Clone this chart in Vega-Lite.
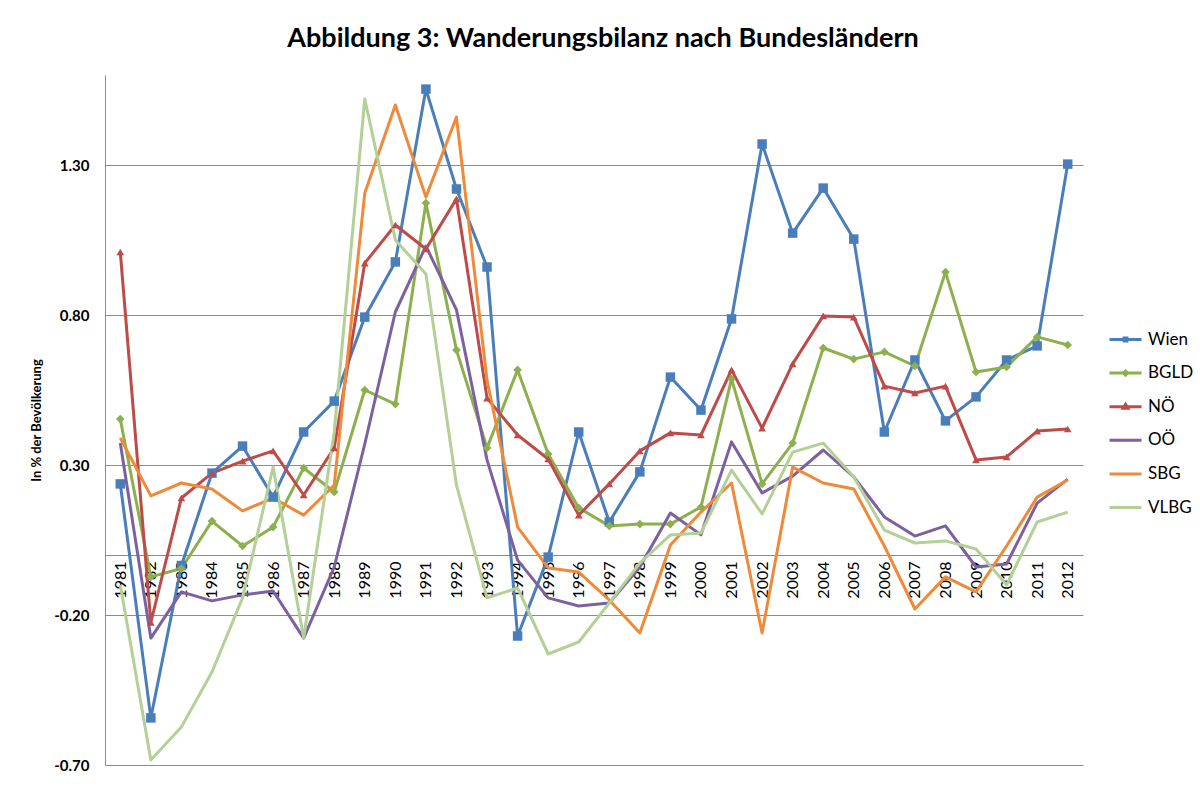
{
  "$schema": "https://vega.github.io/schema/vega-lite/v6.json",
  "width": 978,
  "height": 690,
  "autosize": "none",
  "padding": {"left": 105, "top": 75, "right": 117, "bottom": 22},
  "background": "white",
  "config": {"font": "Lato", "view": {"stroke": null}},
  "title": {
    "text": "Abbildung 3: Wanderungsbilanz nach Bundesländern",
    "font": "Lato", "fontSize": 27, "fontWeight": "bold", "color": "black",
    "anchor": "middle", "baseline": "alphabetic", "offset": 1, "dx": 9
  },
  "data": {"values": [
    {"year": "1981", "Wien": 0.237, "BGLD": 0.453, "NÖ": 1.01, "OÖ": 0.373, "SBG": 0.39, "VLBG": -0.10},
    {"year": "1982", "Wien": -0.543, "BGLD": -0.073, "NÖ": -0.225, "OÖ": -0.277, "SBG": 0.197, "VLBG": -0.683},
    {"year": "1983", "Wien": -0.035, "BGLD": -0.045, "NÖ": 0.19, "OÖ": -0.123, "SBG": 0.24, "VLBG": -0.573},
    {"year": "1984", "Wien": 0.273, "BGLD": 0.113, "NÖ": 0.273, "OÖ": -0.153, "SBG": 0.22, "VLBG": -0.39},
    {"year": "1985", "Wien": 0.363, "BGLD": 0.03, "NÖ": 0.313, "OÖ": -0.133, "SBG": 0.147, "VLBG": -0.143},
    {"year": "1986", "Wien": 0.193, "BGLD": 0.093, "NÖ": 0.347, "OÖ": -0.12, "SBG": 0.19, "VLBG": 0.293},
    {"year": "1987", "Wien": 0.41, "BGLD": 0.29, "NÖ": 0.2, "OÖ": -0.277, "SBG": 0.133, "VLBG": -0.277},
    {"year": "1988", "Wien": 0.513, "BGLD": 0.21, "NÖ": 0.357, "OÖ": -0.04, "SBG": 0.233, "VLBG": 0.41},
    {"year": "1989", "Wien": 0.793, "BGLD": 0.55, "NÖ": 0.973, "OÖ": 0.37, "SBG": 1.207, "VLBG": 1.52},
    {"year": "1990", "Wien": 0.977, "BGLD": 0.503, "NÖ": 1.1, "OÖ": 0.81, "SBG": 1.5, "VLBG": 1.05},
    {"year": "1991", "Wien": 1.553, "BGLD": 1.173, "NÖ": 1.02, "OÖ": 1.03, "SBG": 1.193, "VLBG": 0.937},
    {"year": "1992", "Wien": 1.22, "BGLD": 0.683, "NÖ": 1.187, "OÖ": 0.817, "SBG": 1.46, "VLBG": 0.233},
    {"year": "1993", "Wien": 0.96, "BGLD": 0.357, "NÖ": 0.523, "OÖ": 0.317, "SBG": 0.583, "VLBG": -0.143},
    {"year": "1994", "Wien": -0.27, "BGLD": 0.617, "NÖ": 0.4, "OÖ": -0.017, "SBG": 0.093, "VLBG": -0.11},
    {"year": "1995", "Wien": -0.007, "BGLD": 0.337, "NÖ": 0.32, "OÖ": -0.143, "SBG": -0.043, "VLBG": -0.33},
    {"year": "1996", "Wien": 0.41, "BGLD": 0.157, "NÖ": 0.133, "OÖ": -0.17, "SBG": -0.057, "VLBG": -0.29},
    {"year": "1997", "Wien": 0.11, "BGLD": 0.097, "NÖ": 0.237, "OÖ": -0.16, "SBG": -0.15, "VLBG": -0.16},
    {"year": "1998", "Wien": 0.277, "BGLD": 0.103, "NÖ": 0.347, "OÖ": -0.04, "SBG": -0.26, "VLBG": -0.027},
    {"year": "1999", "Wien": 0.593, "BGLD": 0.103, "NÖ": 0.407, "OÖ": 0.14, "SBG": 0.033, "VLBG": 0.067},
    {"year": "2000", "Wien": 0.483, "BGLD": 0.16, "NÖ": 0.4, "OÖ": 0.067, "SBG": 0.143, "VLBG": 0.073},
    {"year": "2001", "Wien": 0.787, "BGLD": 0.587, "NÖ": 0.617, "OÖ": 0.377, "SBG": 0.24, "VLBG": 0.283},
    {"year": "2002", "Wien": 1.37, "BGLD": 0.237, "NÖ": 0.423, "OÖ": 0.207, "SBG": -0.26, "VLBG": 0.137},
    {"year": "2003", "Wien": 1.073, "BGLD": 0.373, "NÖ": 0.637, "OÖ": 0.263, "SBG": 0.293, "VLBG": 0.343},
    {"year": "2004", "Wien": 1.223, "BGLD": 0.69, "NÖ": 0.797, "OÖ": 0.35, "SBG": 0.24, "VLBG": 0.373},
    {"year": "2005", "Wien": 1.053, "BGLD": 0.653, "NÖ": 0.793, "OÖ": 0.26, "SBG": 0.22, "VLBG": 0.26},
    {"year": "2006", "Wien": 0.41, "BGLD": 0.677, "NÖ": 0.563, "OÖ": 0.127, "SBG": 0.03, "VLBG": 0.083},
    {"year": "2007", "Wien": 0.65, "BGLD": 0.63, "NÖ": 0.54, "OÖ": 0.063, "SBG": -0.18, "VLBG": 0.04},
    {"year": "2008", "Wien": 0.447, "BGLD": 0.943, "NÖ": 0.563, "OÖ": 0.097, "SBG": -0.073, "VLBG": 0.047},
    {"year": "2009", "Wien": 0.527, "BGLD": 0.61, "NÖ": 0.317, "OÖ": -0.04, "SBG": -0.123, "VLBG": 0.02},
    {"year": "2010", "Wien": 0.65, "BGLD": 0.627, "NÖ": 0.327, "OÖ": -0.03, "SBG": 0.03, "VLBG": -0.1},
    {"year": "2011", "Wien": 0.697, "BGLD": 0.727, "NÖ": 0.413, "OÖ": 0.173, "SBG": 0.193, "VLBG": 0.11},
    {"year": "2012", "Wien": 1.303, "BGLD": 0.7, "NÖ": 0.42, "OÖ": 0.253, "SBG": 0.25, "VLBG": 0.143}
  ]},
  "transform": [{"fold": ["Wien", "BGLD", "NÖ", "OÖ", "SBG", "VLBG"], "as": ["series", "value"]}],
  "encoding": {
    "x": {
      "field": "year", "type": "ordinal",
      "scale": {"type": "point", "padding": 0.5},
      "axis": {
        "title": null, "offset": -210, "labelAngle": -90,
        "labelFont": "Lato", "labelFontSize": 16, "labelColor": "black",
        "ticks": false, "tickSize": 0, "labelPadding": 6,
        "domainColor": "#8c8c8c", "domainWidth": 1, "grid": false
      }
    },
    "y": {
      "field": "value", "type": "quantitative",
      "scale": {"domain": [-0.7, 1.6], "nice": false, "zero": false},
      "axis": {
        "values": [-0.7, -0.2, 0.3, 0.8, 1.3],
        "labelExpr": "replace(format(datum.value, '.2f'), '\u2212', '-')",
        "title": "In % der Bevölkerung",
        "titleFont": "Lato", "titleFontSize": 13, "titleFontWeight": "bold", "titleColor": "black",
        "titlePadding": 10,
        "labelFont": "Lato", "labelFontSize": 15, "labelFontWeight": "bold", "labelColor": "black",
        "labelPadding": 16, "ticks": false, "tickSize": 0,
        "domainColor": "#8c8c8c", "gridColor": "#8c8c8c", "gridWidth": 1
      }
    },
    "color": {
      "field": "series", "type": "nominal",
      "scale": {
        "domain": ["Wien", "BGLD", "NÖ", "OÖ", "SBG", "VLBG"],
        "range": ["#4A7EBB", "#8DB04E", "#BE4B48", "#7D60A0", "#EE8A3A", "#B3D096"]
      },
      "legend": {
        "title": null, "orient": "none", "legendX": 1003, "legendY": 247,
        "labelFont": "Lato", "labelFontSize": 17, "labelColor": "black",
        "symbolSize": 1024, "symbolStrokeWidth": 3, "labelOffset": 5, "rowPadding": 7.6,
        "encode": {
          "symbols": {
            "update": {
              "shape": {"signal": "datum.value === 'Wien' ? 'M-1,0H1M-0.09,-0.09H0.09V0.09H-0.09Z' : datum.value === 'BGLD' ? 'M-1,0H1M0,-0.13L0.13,0L0,0.13L-0.13,0Z' : datum.value === 'NÖ' ? 'M-1,0H1M0,-0.15L0.15,0.1H-0.15Z' : 'M-1,0H1'"},
              "fill": {"signal": "scale('color', datum.value)"},
              "stroke": {"signal": "scale('color', datum.value)"},
              "strokeWidth": {"value": 3},
              "opacity": {"value": 1}
            }
          }
        }
      }
    }
  },
  "layer": [
    {"mark": {"type": "line", "strokeWidth": 3, "strokeJoin": "round"}},
    {
      "transform": [{"filter": {"field": "series", "oneOf": ["Wien", "BGLD", "NÖ"]}}],
      "mark": {"type": "point", "filled": true, "opacity": 1},
      "encoding": {
        "shape": {"field": "series", "type": "nominal", "scale": {"domain": ["Wien", "BGLD", "NÖ"], "range": ["square", "diamond", "triangle-up"]}, "legend": null},
        "size": {"field": "series", "type": "nominal", "scale": {"domain": ["Wien", "BGLD", "NÖ"], "range": [90, 60, 90]}, "legend": null}
      }
    }
  ]
}
